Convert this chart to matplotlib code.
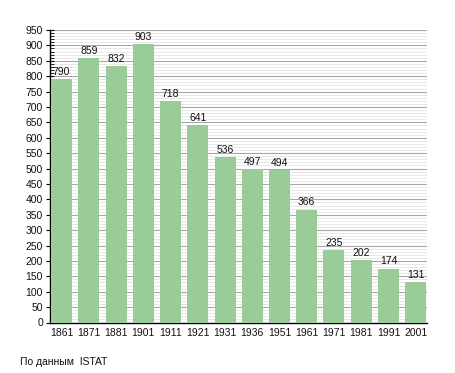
import matplotlib
matplotlib.use("Agg")
import matplotlib.pyplot as plt
from matplotlib.ticker import MultipleLocator

years = ["1861", "1871", "1881", "1901", "1911", "1921", "1931", "1936",
         "1951", "1961", "1971", "1981", "1991", "2001"]
population = [790, 859, 832, 903, 718, 641, 536, 497, 494, 366, 235, 202, 174, 131]
source_note = "По данным  ISTAT"

plt.rcParams['font.family'] = ['Liberation Sans', 'DejaVu Sans']

fig = plt.figure(figsize=(4.55, 3.73), dpi=100)
ax = fig.add_axes([50/455, 1 - 322.5/373, 377/455, 292.5/373])

x = list(range(len(years)))
w = 0.77
bars = ax.bar(x, population, width=w, color="#99cc99", zorder=3)

for xi, v in zip(x, population):
    ax.text(xi, v + 8, str(v), ha="center", va="bottom", fontsize=7.5, color="#111111", zorder=4)

ax.set_ylim(0, 950)
ax.set_xlim(-w/2 - 0.04, len(years) - 1 + w/2 + 0.03)
ax.yaxis.set_major_locator(MultipleLocator(50))
ax.yaxis.set_minor_locator(MultipleLocator(10))
ax.set_xticks(x)
ax.set_xticklabels(years)

ax.grid(axis="y", which="major", color="#a8a8a8", linewidth=0.8, zorder=0)
ax.grid(axis="y", which="minor", color="#e4e4e4", linewidth=0.6, zorder=0)
ax.set_axisbelow(True)

for s in ["top", "right"]:
    ax.spines[s].set_visible(False)
ax.spines["left"].set_linewidth(1.0)
ax.spines["bottom"].set_linewidth(1.0)

ax.tick_params(axis="y", which="major", direction="inout", length=6, width=0.8, labelsize=7.5, pad=2, labelcolor="#111111")
ax.tick_params(axis="y", which="minor", direction="in", length=3, width=0.6)
ax.tick_params(axis="x", which="both", length=0, labelsize=7.5, pad=4, labelcolor="#111111")

fig.text(20/455, 1 - 362/373, source_note, fontsize=7.5, va="center", ha="left", color="#111111")

fig.savefig("out.png", dpi=100)
